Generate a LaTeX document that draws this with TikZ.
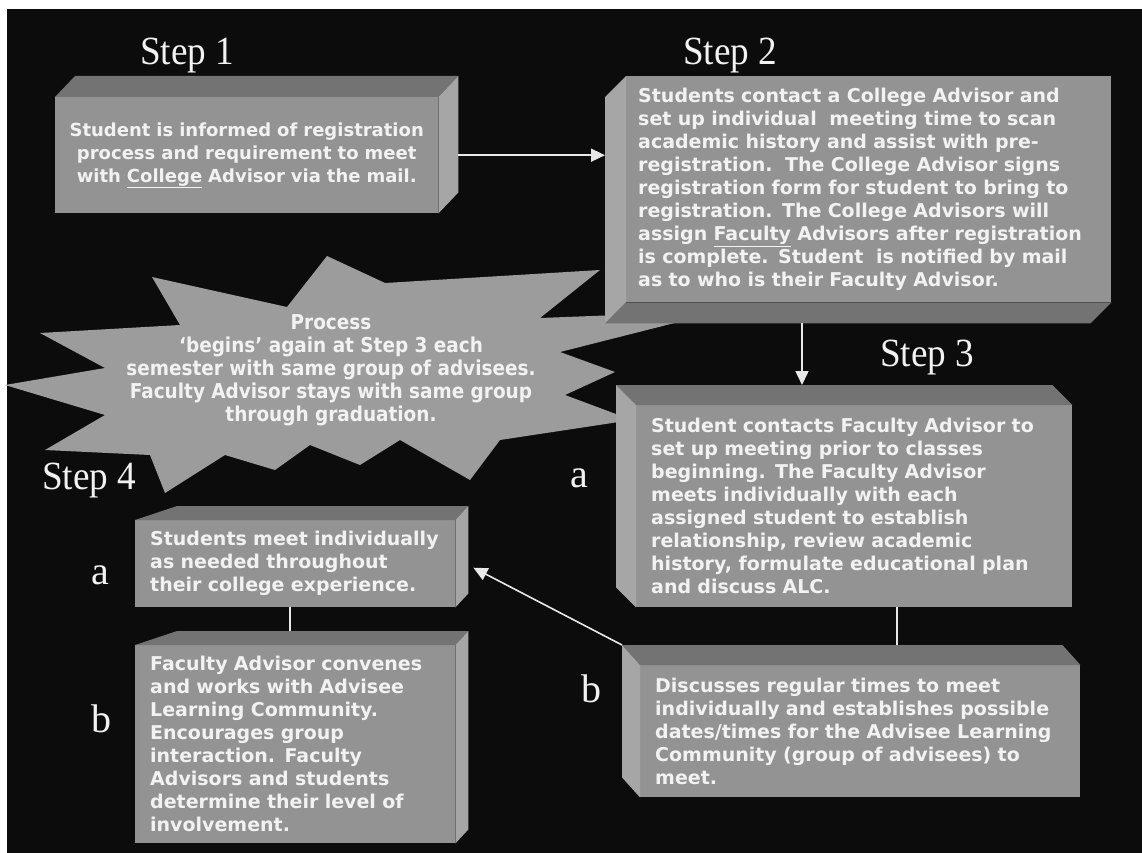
\documentclass[tikz,border=0pt]{standalone}
\usepackage{fontspec}
\usetikzlibrary{arrows.meta,calc}

\newfontfamily\boxfont{DejaVu Sans}
\newfontfamily\burstfont{DejaVu Sans Condensed}
\newfontfamily\stepfont{Liberation Serif}

\definecolor{bggrey}{HTML}{0C0C0C}
\definecolor{facegrey}{HTML}{939393}
\definecolor{topgrey}{HTML}{737373}
\definecolor{sidegrey}{HTML}{A6A6A6}
\definecolor{burstgrey}{HTML}{9C9C9C}
\definecolor{textwhite}{HTML}{F2F2F2}
\definecolor{linewhite}{HTML}{E8E8E8}

\tikzset{
  front/.style={fill=facegrey, text=textwhite, anchor=north west,
    inner xsep=15pt, inner ysep=0pt, align=left,
    font=\boxfont\bfseries\fontsize{19}{23}\selectfont},
  topface/.style={fill=topgrey},
  sideface/.style={fill=sidegrey},
  steptitle/.style={text=textwhite, anchor=base west, inner sep=0pt,
    font=\stepfont\fontsize{40}{40}\selectfont},
  link/.style={draw=linewhite, line width=1.6pt},
  arrowlink/.style={link, -{Triangle[length=14pt, width=13pt]}}
}

\begin{document}
\begin{tikzpicture}[x=1pt, y=-1pt, line join=round]

  % Background
  \useasboundingbox (0,0) rectangle (1142,853);
  \fill [white] (0,0) rectangle (1142,853);
  \fill [bggrey] (7,9) rectangle (1142,853);

  % Starburst
  \fill [burstgrey] (5,385) -- (105,368) -- (40,333) -- (180,325) -- (152,277) --
    (287,307) -- (327,256) -- (385,283) -- (600,270) -- (540,318) --
    (722,311) -- (560,352) -- (615,372) -- (565,395) -- (632,420) --
    (500,440) -- (470,480) -- (400,440) -- (360,465) -- (310,445) --
    (275,470) -- (225,455) -- (165,493) -- (150,455) -- (45,450) --
    (105,415) -- cycle;
  \node [text=textwhite, align=center, inner sep=0pt,
    font=\burstfont\bfseries\fontsize{20.5}{23}\selectfont] (burst) at (331,370)
    {Process\\‘begins’ again at Step 3 each\\semester with same group of advisees.\\
     Faculty Advisor stays with same group\\through graduation.};

  % Step titles
  \node [steptitle] (titleone) at (140,65) {\scalebox{0.93}[1]{Step 1}};
  \node [steptitle] (titletwo) at (683,65) {\scalebox{0.93}[1]{Step 2}};
  \node [steptitle] (titlethree) at (880,366) {\scalebox{0.93}[1]{Step 3}};
  \node [steptitle] (titlefour) at (42,489) {\scalebox{0.93}[1]{Step 4}};
  \node [steptitle] (lblthreea) at (570,487) {a};
  \node [steptitle] (lblthreeb) at (581,702) {b};
  \node [steptitle] (lblfoura) at (91,584) {a};
  \node [steptitle] (lblfourb) at (91,732) {b};

  % Front faces
  \node [front, align=center, inner xsep=0pt, minimum width=383pt,
    minimum height=116pt, text width=383pt,
    font=\boxfont\bfseries\fontsize{18}{23}\selectfont] (stepone) at (55,97)
    {Student is informed of registration\\process and requirement to meet\\
     with \underline{College} Advisor via the mail.};
  \node [front, inner xsep=12pt, minimum width=485pt, minimum height=226pt,
    text width=461pt] (steptwo) at (626,76)
    {Students contact a College Advisor and\\
     set up individual\ \ meeting time to scan\\
     academic history and assist with pre-\\
     registration.\ \ The College Advisor signs\\
     registration form for student to bring to\\
     registration. The College Advisors will\\
     assign \underline{Faculty} Advisors after registration\\
     is complete. Student\ \ is notified by mail\\
     as to who is their Faculty Advisor.};
  \node [front, minimum width=436pt, minimum height=202pt, text width=406pt]
    (stepthree) at (636,405)
    {Student contacts Faculty Advisor to\\set up meeting prior to classes\\
     beginning. The Faculty Advisor\\meets individually with each\\
     assigned student to establish\\relationship, review academic\\
     history, formulate educational plan\\and discuss ALC.};
  \node [front, minimum width=440pt, minimum height=132pt, text width=410pt]
    (stepthreeb) at (640,665)
    {Discusses regular times to meet\\individually and establishes possible\\
     dates/times for the Advisee Learning\\Community (group of advisees) to\\meet.};
  \node [front, minimum width=320pt, minimum height=87pt, text width=290pt]
    (stepfoura) at (135,520)
    {Students meet individually\\as needed throughout\\their college experience.};
  \node [front, minimum width=320pt, minimum height=198pt, text width=290pt]
    (stepfourb) at (135,645)
    {Faculty Advisor convenes\\and works with Advisee\\Learning Community.\\
     Encourages group\\interaction. Faculty\\Advisors and students\\
     determine their level of\\involvement.};

  % Bevels, step 1 (top and right)
  \fill [topface] (stepone.north west) -- ++(20,-21) --
    ($(stepone.north east)+(20,-21)$) -- (stepone.north east) -- cycle;
  \fill [sideface] (stepone.north east) -- ++(20,-21) --
    ($(stepone.south east)+(20,-21)$) -- (stepone.south east) -- cycle;

  % Bevels, step 2 (left and bottom)
  \fill [sideface] (steptwo.north west) -- ++(-21,21) --
    ($(steptwo.south west)+(-21,21)$) -- (steptwo.south west) -- cycle;
  \fill [topface] (steptwo.south west) -- ++(-21,21) --
    ($(steptwo.south east)+(-21,21)$) -- (steptwo.south east) -- cycle;

  % Bevels, step 3 (top and left)
  \foreach \b/\dx in {stepthree/-20, stepthreeb/-18}{%
    \fill [topface] (\b.north west) -- ++(\dx,-20) --
      ($(\b.north east)+(\dx,-20)$) -- (\b.north east) -- cycle;
    \fill [sideface] (\b.north west) -- ++(\dx,-20) --
      ($(\b.south west)+(\dx,-20)$) -- (\b.south west) -- cycle;
  }

  % Bevels, step 4 (top and right)
  \foreach \b in {stepfoura, stepfourb}{%
    \fill [topface] (\b.north west) -- ++(42,-14) --
      ($(\b.north east)+(13,-14)$) -- (\b.north east) -- cycle;
    \fill [sideface] (\b.north east) -- ++(13,-14) --
      ($(\b.south east)+(13,-14)$) -- (\b.south east) -- cycle;
  }

  % Connectors
  \draw [arrowlink] ($(stepone.east)+(20,0)$) -- ($(stepone.east -| steptwo.west)+(-21,0)$);
  \draw [arrowlink] ($(steptwo.south west)+(176,21)$) -- ($(stepthree.north west)+(166,-20)$);
  \draw [link] ($(stepthree.south west)+(261,0)$) -- ($(stepthreeb.north west)+(257,-20)$);
  \draw [arrowlink] ($(stepthreeb.north west)+(-18,-20)$) -- ($(stepfoura.east)+(18,4)$);
  \draw [link] ($(stepfoura.south west)+(155,0)$) -- ($(stepfourb.north west)+(155,-14)$);

\end{tikzpicture}
\end{document}
